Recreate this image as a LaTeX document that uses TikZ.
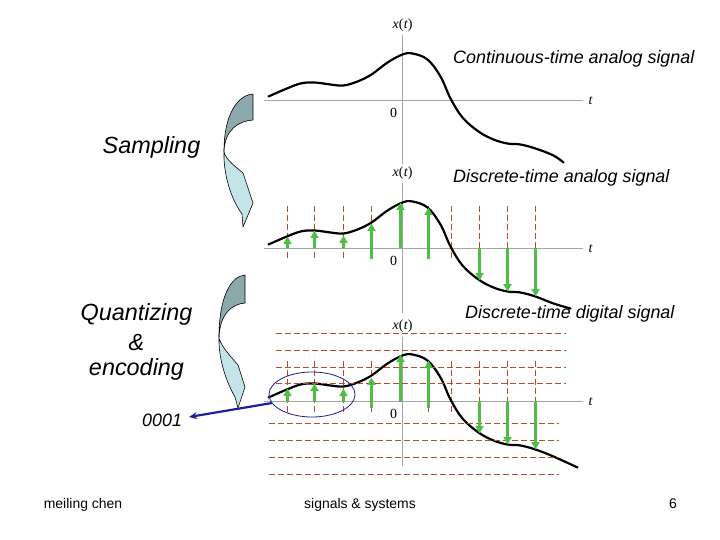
\documentclass[tikz,border=0pt]{standalone}
\usepackage{fontspec}
\setmainfont{Liberation Sans}
\newfontfamily\serifm{Liberation Serif}
\usetikzlibrary{arrows.meta,shapes.geometric}
\definecolor{sgreen}{RGB}{80,190,70}
\definecolor{sred}{RGB}{185,75,50}
\definecolor{saxis}{RGB}{165,165,165}
\definecolor{darkpart}{RGB}{140,170,172}
\definecolor{lightpart}{RGB}{195,228,232}
\definecolor{navyb}{RGB}{30,30,150}
\newcommand\sigcurve[1]{\draw[curve] plot[smooth,tension=0.6] coordinates {(-134,-4) (-118,-11) (-102,-17) (-88,-18) (-72,-16) (-59,-15) (-45,-19) (-31,-26) (-15,-38) (0,-46) (10,-47) (25,-41) (38,-24) (48,-2) (60,17) (76,31) (91,39) (105,43) (118,44) (133,48) (151,55) #1};}
\newcommand\sigaxes[1]{%
  \draw[axisline] (-139,0) -- (180,0);
  \draw[axisline] (0,-65) -- (0,64);
  \node[mathlbl] (xt#1) at (0,-75.5) {{\itshape x}(\kern0.5pt{\itshape t})};
  \node[mathlbl] (zero#1) at (-9,12.5) {0};
  \node[mathlbl] (t#1) at (188,0) {\itshape t};}
\tikzset{
  axisline/.style={saxis, line width=1.4bp},
  curve/.style={black, line width=2.2bp, line cap=round},
  rdash/.style={sred, line width=1bp, dash pattern=on 6bp off 3bp},
  garrow/.style={sgreen, line width=2.6bp, -{Triangle[length=7.5bp,width=8bp]}},
  mathlbl/.style={font=\serifm\fontsize{14}{16}\selectfont, inner sep=0pt},
  biglbl/.style={font=\fontsize{18}{20}\selectfont\itshape, inner sep=0pt},
  sidelbl/.style={font=\fontsize{23.5}{26}\selectfont\itshape, inner sep=0pt},
  footlbl/.style={font=\fontsize{14}{16}\selectfont, inner sep=0pt},
  darkfill/.style={fill=darkpart, draw=black, line width=0.6bp, line join=round},
  lightfill/.style={fill=lightpart, draw=black, line width=0.6bp, line join=round}
}
\begin{document}
\begin{tikzpicture}[x=1bp,y=-1bp]
\useasboundingbox (0,0) rectangle (720,540);
% labels
\node[biglbl, anchor=base west] (lcont) at (453,64) {Continuous-time analog signal};
\node[biglbl, anchor=base west] (ldta) at (453,183) {Discrete-time analog signal};
\node[biglbl, anchor=base west] (ldtd) at (465,318) {Discrete-time digital signal};
\node[sidelbl, anchor=base] (lsamp) at (151.5,154) {Sampling};
\node[sidelbl, anchor=base] (lquant) at (136.5,320) {Quantizing};
\node[sidelbl, anchor=base] (land) at (136.5,350) {\&};
\node[sidelbl, anchor=base] (lenc) at (136.5,375) {encoding};
\node[font=\fontsize{18}{20}\selectfont\itshape, inner sep=0pt, anchor=base west] (code) at (142,426) {0001};
\node[footlbl, anchor=base] (fa) at (83,508) {meiling chen};
\node[footlbl, anchor=base] (fb) at (360,508) {signals \& systems};
\node[footlbl, anchor=base] (fc) at (673,508) {6};
% curved arrows
\begin{scope}[shift={(253,94)}]
  \path[darkfill] (0,0) .. controls (-15,1) and (-29,20) .. (-29,57) .. controls (-28,36) and (-15,27) .. (0,26) -- cycle;
  \path[lightfill] (-29,56) .. controls (-30,80) and (-22,105) .. (-11,120) -- (-10,133) -- (0,109) -- (-10,79) .. controls (-17,73) and (-27,66) .. (-29,58) -- cycle;
\end{scope}
\begin{scope}[shift={(245,275)}]
  \path[darkfill] (0,0) .. controls (-14,1) and (-26,22) .. (-26,62) .. controls (-25,40) and (-14,29) .. (0,28) -- cycle;
  \path[lightfill] (-26,60) .. controls (-27,85) and (-18,108) .. (-10,122) -- (-7,133) -- (0,112) -- (-7,90) .. controls (-14,82) and (-24,71) .. (-26,63) -- cycle;
\end{scope}
% top plot
\begin{scope}[shift={(402.5,100.5)}]
  \sigaxes{a}
  \sigcurve{(161,62)}
\end{scope}
% middle plot
\begin{scope}[shift={(402.5,248.5)}]
  \foreach \x in {-115,-88,-59,-31,26,49,77,105,133} \draw[rdash] (\x,-42) -- (\x,11);
  \sigaxes{b}
  \sigcurve{(168,60)}
  \foreach \x/\y/\s in {-115/-12/0, -88/-18/0, -59/-13/0, -31/-25/11, -2/-46/0, 26/-41/11, 77/32/0, 105/43/0, 133/48/0}
    \draw[garrow] (\x,\s) -- (\x,\y);
\end{scope}
% bottom plot
\begin{scope}[shift={(402.5,401.5)}]
  \foreach \x in {-115,-88,-59,-31,26,49,77,105,133} \draw[rdash] (\x,-41) -- (\x,12);
  \sigaxes{c}
  \sigcurve{(175,66)}
  \foreach \y in {-68,-51,-34,-18} \draw[rdash] (-127,\y) -- (163,\y);
  \foreach \y in {22,39,56,73} \draw[rdash] (-134,\y) -- (156,\y);
  \foreach \x/\y/\s in {-115/-13/0, -88/-18/0, -59/-13/0, -31/-24/6, -2/-47/0, 26/-41/6, 77/32/0, 105/43/0, 133/48/0}
    \draw[garrow] (\x,\s) -- (\x,\y);
\end{scope}
% selection ellipse and code arrow
\node[ellipse, draw=navyb, line width=0.8bp, minimum width=86bp, minimum height=45bp, inner sep=0pt] (sel) at (312,394.5) {};
\coordinate (tipc) at (189,417);
\draw[navyb, line width=2.2bp, -{Stealth[length=8bp,width=7bp]}] (sel.192) -- (tipc);
\end{tikzpicture}
\end{document}
